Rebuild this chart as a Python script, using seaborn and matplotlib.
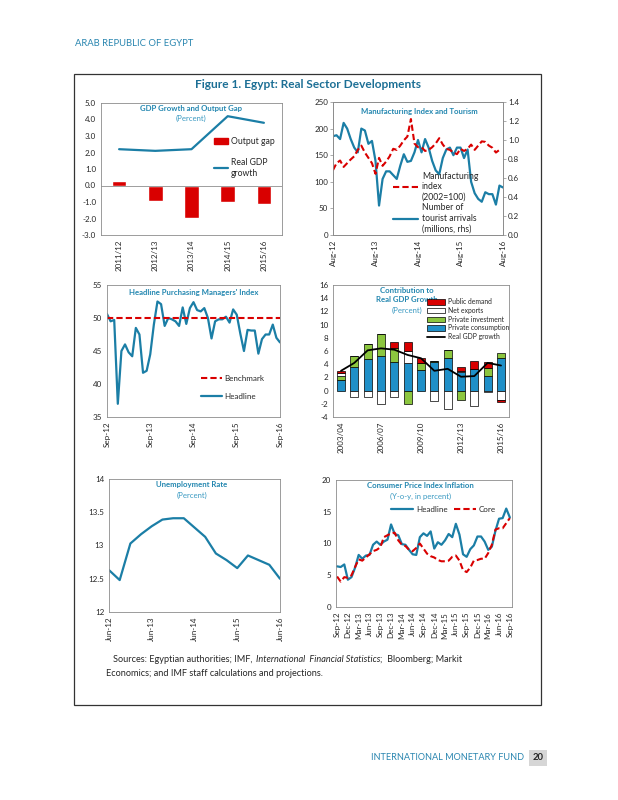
import numpy as np
import pandas as pd
import matplotlib
matplotlib.use("Agg")
import matplotlib.pyplot as plt
import seaborn as sns
from matplotlib.patches import Rectangle, Patch
from matplotlib.lines import Line2D

# ---- data ----
gdp_years = ["2011/12", "2012/13", "2013/14", "2014/15", "2015/16"]
output_gap = [0.3, -0.95, -1.95, -1.0, -1.15]
real_gdp = [2.2, 2.1, 2.2, 4.2, 3.8]

mfg_ticks = ["Aug-12", "Aug-13", "Aug-14", "Aug-15", "Aug-16"]
mfg_index = [122, 135, 140, 128, 135, 142, 148, 160, 168, 155, 145, 135,
             115, 145, 130, 138, 148, 162, 160, 168, 178, 185, 218, 172,
             165, 165, 158, 160, 165, 172, 182, 170, 162, 160, 155, 152,
             162, 158, 162, 170, 160, 168, 176, 175, 168, 164, 155, 160]
tourists = [1.04, 1.05, 1.01, 1.18, 1.12, 1.01, 0.92, 0.87, 1.12, 1.10, 0.96, 0.99,
            0.78, 0.31, 0.59, 0.67, 0.67, 0.63, 0.59, 0.73, 0.85, 0.77, 0.78, 0.87,
            1.00, 0.87, 1.01, 0.92, 0.78, 0.68, 0.64, 0.81, 0.90, 0.92, 0.84, 0.92,
            0.92, 0.81, 0.90, 0.56, 0.44, 0.38, 0.35, 0.45, 0.43, 0.43, 0.32, 0.52,
            0.50]

pmi_ticks = ["Sep-12", "Sep-13", "Sep-14", "Sep-15", "Sep-16"]
pmi_headline = [50.6, 49.5, 49.7, 37.0, 45.0, 46.0, 44.8, 44.2, 48.5, 47.5, 41.7, 42.0,
                44.5, 49.0, 52.5, 52.1, 48.8, 50.0, 49.8, 49.5, 48.8, 51.6, 49.1, 51.5,
                52.4, 51.2, 51.0, 51.5, 50.0, 46.9, 49.5, 49.8, 49.8, 50.2, 49.3, 51.3,
                50.5, 47.6, 45.0, 48.2, 48.1, 48.1, 44.6, 46.8, 47.5, 47.5, 49.0, 47.0,
                46.3]
pmi_benchmark = 50

contrib_years = ["2003/04", "2004/05", "2005/06", "2006/07", "2007/08", "2008/09",
                 "2009/10", "2010/11", "2011/12", "2012/13", "2013/14", "2014/15",
                 "2015/16"]
priv_cons = [1.6, 3.6, 4.8, 5.3, 4.3, 4.2, 3.1, 4.3, 4.9, 2.8, 3.2, 2.2, 4.9]
priv_inv = [0.6, 1.6, 2.2, 3.3, 2.2, -2.0, 1.1, 0.2, 1.3, -1.4, 0.0, 1.2, 0.8]
net_exports = [0.4, -1.0, -0.9, -2.1, -1.0, 1.8, 0.0, -1.6, -2.8, 0.2, -2.3, -0.2, -1.4]
public_demand = [0.4, 0.0, 0.0, 0.0, 0.8, 1.4, 0.8, 0.0, 0.0, 0.6, 1.3, 0.9, -0.4]
gdp_growth = [3.0, 4.2, 6.1, 6.4, 6.2, 5.4, 4.9, 3.0, 3.3, 2.1, 2.2, 4.2, 3.8]

unemp_ticks = ["Jun-12", "Jun-13", "Jun-14", "Jun-15", "Jun-16"]
unemployment = [12.63, 12.48, 13.03, 13.17, 13.29, 13.39, 13.41, 13.41, 13.27,
                13.13, 12.88, 12.78, 12.66, 12.85, 12.78, 12.71, 12.50]

cpi_ticks = ["Sep-12", "Dec-12", "Mar-13", "Jun-13", "Sep-13", "Dec-13", "Mar-14",
             "Jun-14", "Sep-14", "Dec-14", "Mar-15", "Jun-15", "Sep-15", "Dec-15",
             "Mar-16", "Jun-16", "Sep-16"]
cpi_headline = [6.4, 6.3, 6.7, 4.3, 4.7, 6.2, 8.2, 7.6, 8.1, 8.2, 9.8, 10.3,
                9.8, 10.3, 10.6, 13.0, 11.5, 11.3, 9.9, 9.8, 9.0, 8.3, 8.2, 11.0,
                11.6, 11.2, 11.9, 9.2, 10.2, 9.8, 10.5, 11.5, 11.0, 13.1, 11.4, 8.3,
                7.9, 9.1, 9.7, 11.1, 11.1, 10.3, 9.0, 9.5, 12.0, 13.9, 14.0, 15.5,
                14.1]
cpi_core = [4.8, 4.0, 4.7, 4.6, 5.0, 6.3, 7.5, 7.3, 7.8, 8.3, 8.8, 9.0,
            9.4, 11.0, 11.3, 11.6, 11.7, 10.5, 9.8, 9.6, 9.0, 8.8, 9.3, 10.0,
            9.2, 8.4, 8.0, 7.8, 7.4, 7.2, 7.2, 7.3, 7.9, 8.1, 7.3, 5.8,
            5.5, 6.2, 7.3, 7.4, 7.6, 7.6, 8.5, 9.8, 12.2, 12.4, 12.4, 13.2,
            14.0]

# ---- styling ----
sns.set_style("white")
plt.rcParams["font.family"] = ["Lato", "DejaVu Sans"]
plt.rcParams["axes.unicode_minus"] = False

TEAL = "#1B7EA6"
RED = "#D90000"
TITLE = "#2387B0"
BLUE = "#1F90C8"
GREEN = "#8CC63F"
W, H = 618, 800
TICK = 5.8


def rect(x0, y0, x1, y1):
    # pixel box -> figure fraction
    return [x0 / W, 1 - y1 / H, (x1 - x0) / W, (y1 - y0) / H]


def style(ax):
    for s in ax.spines.values():
        s.set_color("#8c8c8c")
        s.set_linewidth(0.6)
        s.set_visible(True)
    ax.tick_params(labelsize=TICK, length=2, width=0.5, color="#8c8c8c", pad=1.5)
    ax.set_xlabel("")
    ax.set_ylabel("")


def panel_title(ax, x, y, lines, sub=None, sub_y=None):
    ax.text(x, y, lines, transform=ax.transAxes, ha="center", va="center",
            fontsize=5.6, fontweight="bold", color=TITLE, linespacing=1.3)
    if sub:
        ax.text(x, sub_y, sub, transform=ax.transAxes, ha="center", va="center",
                fontsize=5.6, color="#3A9AC2")


fig = plt.figure(figsize=(W / 100, H / 100), dpi=100)

# ---- panel 1: GDP growth and output gap ----
ax1 = fig.add_axes(rect(101, 103, 282, 235))
x1 = np.arange(len(gdp_years))
sns.barplot(x=x1, y=output_gap, native_scale=True, width=0.4, color=RED,
            saturation=1, errorbar=None, ax=ax1)
sns.lineplot(x=x1, y=real_gdp, color=TEAL, lw=1.6, ax=ax1)
ax1.axhline(0, color="#777", lw=0.5)
ax1.set_xlim(-0.5, 4.5)
ax1.set_ylim(-3, 5)
ax1.set_yticks(np.arange(-3, 6, 1))
ax1.set_yticklabels([f"{v:.1f}" for v in np.arange(-3, 6, 1)])
ax1.set_xticks(x1)
ax1.set_xticklabels(gdp_years, rotation=90)
style(ax1)
panel_title(ax1, 0.5, 0.955, "GDP Growth and Output Gap", "(Percent)", 0.88)
ax1.legend(handles=[Patch(color=RED, label="Output gap"),
                    Line2D([], [], color=TEAL, lw=1.6, label="Real GDP\ngrowth")],
           loc="upper left", bbox_to_anchor=(0.58, 0.8), frameon=False,
           fontsize=6.2, handlelength=1.7, labelspacing=1.4, handletextpad=0.3)

# ---- panel 2: manufacturing and tourism ----
ax2 = fig.add_axes(rect(333, 102, 503, 235))
ax2r = ax2.twinx()
sns.lineplot(x=np.arange(len(tourists)), y=tourists, color=TEAL, lw=1.6, ax=ax2r)
sns.lineplot(x=np.arange(len(mfg_index)), y=mfg_index, color=RED, lw=1.5,
             linestyle=(0, (3, 1.5)), ax=ax2)
ax2.set_zorder(ax2r.get_zorder() + 1)
ax2.patch.set_visible(False)
ax2.set_xlim(0, 48)
ax2.set_ylim(0, 250)
ax2.set_yticks(np.arange(0, 251, 50))
ax2r.set_ylim(0, 1.4)
ax2r.set_yticks(np.arange(0, 1.41, 0.2))
ax2r.set_yticklabels([f"{v:.1f}" for v in np.arange(0, 1.41, 0.2)])
ax2.set_xticks(np.arange(0, 49, 12))
ax2.set_xticklabels(mfg_ticks, rotation=90)
style(ax2)
style(ax2r)
panel_title(ax2, 0.51, 0.93, "Manufacturing Index and Tourism")
ax2.legend(handles=[Line2D([], [], color=RED, lw=1.5, ls=(0, (3, 1.5)),
                           label="Manufacturing\nindex\n(2002=100)"),
                    Line2D([], [], color=TEAL, lw=1.6,
                           label="Number of\ntourist arrivals\n(millions, rhs)")],
           loc="upper left", bbox_to_anchor=(0.33, 0.5), frameon=False,
           fontsize=6.2, handlelength=3.0, labelspacing=0.2, handletextpad=0.4,
           borderaxespad=0)

# ---- panel 3: PMI ----
ax3 = fig.add_axes(rect(107, 285, 280, 417))
xp = np.arange(len(pmi_headline))
sns.lineplot(x=xp, y=pmi_headline, color=TEAL, lw=1.6, ax=ax3)
ax3.axhline(pmi_benchmark, color=RED, lw=1.5, ls=(0, (3, 1.5)))
ax3.set_xlim(0, 48)
ax3.set_ylim(35, 55)
ax3.set_yticks(np.arange(35, 56, 5))
ax3.set_xticks(np.arange(0, 49, 12))
ax3.set_xticklabels(pmi_ticks, rotation=90)
style(ax3)
panel_title(ax3, 0.5, 0.94, "Headline Purchasing Managers' Index")
ax3.legend(handles=[Line2D([], [], color=RED, lw=1.5, ls=(0, (3, 1.5)), label="Benchmark"),
                    Line2D([], [], color=TEAL, lw=1.6, label="Headline")],
           loc="center left", bbox_to_anchor=(0.5, 0.225), frameon=False,
           fontsize=5.8, handlelength=2.6, labelspacing=1.4, handletextpad=0.3)

# ---- panel 4: contributions to growth ----
ax4 = fig.add_axes(rect(333, 285, 509, 417))
xc = np.arange(len(contrib_years))
comps = [(priv_cons, BLUE), (priv_inv, GREEN), (net_exports, "white"), (public_demand, RED)]
pos_base = np.zeros(len(xc))
neg_base = np.zeros(len(xc))
for vals, col in comps:
    v = np.array(vals, dtype=float)
    base = np.where(v >= 0, pos_base, neg_base)
    sns.barplot(x=xc, y=v, native_scale=True, width=0.6, color=col, saturation=1,
                errorbar=None, bottom=base, edgecolor="black", linewidth=0.5, ax=ax4)
    pos_base = pos_base + np.clip(v, 0, None)
    neg_base = neg_base + np.clip(v, None, 0)
sns.lineplot(x=xc, y=gdp_growth, color="black", lw=1.3, ax=ax4)
ax4.set_xlim(-0.6, 12.6)
ax4.set_ylim(-4, 16)
ax4.set_yticks(np.arange(-4, 17, 2))
ax4.set_xticks(xc[::3])
ax4.set_xticklabels(contrib_years[::3], rotation=90)
style(ax4)
panel_title(ax4, 0.42, 0.925, "Contribution to\nReal GDP Growth", "(Percent)", 0.81)
ax4.legend(handles=[Patch(facecolor=RED, edgecolor="black", lw=0.5, label="Public demand"),
                    Patch(facecolor="white", edgecolor="black", lw=0.5, label="Net exports"),
                    Patch(facecolor=GREEN, edgecolor="black", lw=0.5, label="Private investment"),
                    Patch(facecolor=BLUE, edgecolor="black", lw=0.5, label="Private consumption"),
                    Line2D([], [], color="black", lw=1.3, label="Real GDP growth")],
           loc="upper left", bbox_to_anchor=(0.52, 0.92), frameon=False,
           fontsize=4.9, handlelength=2.6, handleheight=0.9, labelspacing=0.25,
           handletextpad=0.4, borderaxespad=0)

# ---- panel 5: unemployment ----
ax5 = fig.add_axes(rect(109, 479, 280, 612))
xu = np.arange(len(unemployment))
sns.lineplot(x=xu, y=unemployment, color=TEAL, lw=1.6, ax=ax5)
ax5.set_xlim(0, 16)
ax5.set_ylim(12, 14)
ax5.set_yticks(np.arange(12, 14.01, 0.5))
ax5.set_yticklabels([f"{v:g}" for v in np.arange(12, 14.01, 0.5)])
ax5.set_xticks(np.arange(0, 17, 4))
ax5.set_xticklabels(unemp_ticks, rotation=90)
style(ax5)
panel_title(ax5, 0.485, 0.955, "Unemployment Rate", "(Percent)", 0.88)

# ---- panel 6: CPI inflation ----
ax6 = fig.add_axes(rect(336, 480, 512, 607))
xi = np.arange(len(cpi_headline))
sns.lineplot(x=xi, y=cpi_headline, color=TEAL, lw=1.6, ax=ax6)
sns.lineplot(x=xi, y=cpi_core, color=RED, lw=1.5, linestyle=(0, (3, 1.5)), ax=ax6)
ax6.set_xlim(-0.3, 48.6)
ax6.set_ylim(0, 20)
ax6.set_yticks(np.arange(0, 21, 5))
ax6.set_xticks(np.arange(0, 49, 3))
ax6.set_xticklabels(cpi_ticks, rotation=90)
style(ax6)
panel_title(ax6, 0.48, 0.953, "Consumer Price Index Inflation", "(Y-o-y, in percent)", 0.874)
ax6.legend(handles=[Line2D([], [], color=TEAL, lw=1.6, label="Headline"),
                    Line2D([], [], color=RED, lw=1.5, ls=(0, (3, 1.5)), label="Core")],
           loc="center", bbox_to_anchor=(0.61, 0.77), ncol=2, frameon=False,
           fontsize=5.8, handlelength=2.8, columnspacing=0.8, handletextpad=0.3)

# ---- page furniture ----
fig.add_artist(Rectangle((74 / W, 1 - 705 / H), (541 - 74) / W, (705 - 74) / H,
                         transform=fig.transFigure, fill=False, edgecolor="#333333", lw=0.9))
fig.text(75 / W, 1 - 43 / H, "ARAB REPUBLIC OF EGYPT", fontsize=6.8, color="#2A86B0",
         va="center")
fig.text(308 / W, 1 - 85 / H, "Figure 1. Egypt: Real Sector Developments", fontsize=8.6,
         fontweight="bold", color="#1C6F95", ha="center", va="center")

renderer = fig.canvas.get_renderer()
y_src = 1 - 660 / H
t = fig.text(113 / W, y_src, "Sources: Egyptian authorities; IMF,", fontsize=6.6, va="center")
xe = t.get_window_extent(renderer).x1 / W + 3 / W
t = fig.text(xe, y_src, "International  Financial Statistics", fontsize=6.6, va="center",
             style="italic")
xe = t.get_window_extent(renderer).x1 / W
fig.text(xe, y_src, ";  Bloomberg; Markit", fontsize=6.6, va="center")
fig.text(106 / W, 1 - 673 / H, "Economics; and IMF staff calculations and projections.",
         fontsize=6.6, va="center")

fig.text(524 / W, 1 - 758 / H, "INTERNATIONAL MONETARY FUND", fontsize=6.6, color="#2A86B0",
         ha="right", va="center")
fig.text(538 / W, 1 - 758 / H, "20", fontsize=6.8, fontweight="bold", ha="center", va="center",
         bbox=dict(facecolor="#d6d6d6", edgecolor="none", pad=2.5))

fig.savefig("out.png", dpi=100)
